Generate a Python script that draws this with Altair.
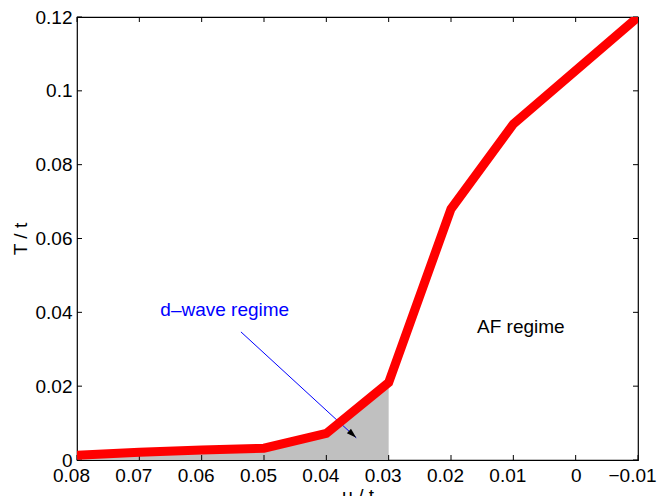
import altair as alt
import pandas as pd

mu = [0.08, 0.07, 0.06, 0.05, 0.04, 0.03, 0.02, 0.01, -0.01]
T = [0.0013, 0.0021, 0.0027, 0.0032, 0.0072, 0.021, 0.068, 0.091, 0.12]

dwave_mu = [0.08, 0.07, 0.06, 0.05, 0.04, 0.03]
dwave_T = [0.0013, 0.0021, 0.0027, 0.0032, 0.0072, 0.021]

x_ticks = [0.08, 0.07, 0.06, 0.05, 0.04, 0.03, 0.02, 0.01, 0.0, -0.01]
y_ticks = [0.0, 0.02, 0.04, 0.06, 0.08, 0.1, 0.12]

labels = ["d\u2013wave regime", "AF regime"]
label_mu = [0.0563, 0.0088]
label_T = [0.0406, 0.036]
label_color = ["#0000ff", "#000000"]

arrow_start = (0.0537, 0.0347)
arrow_end = (0.0352, 0.0060)

W, H = 561, 443
FONT = "Liberation Sans"
FS = 19
TL = 5

line_df = pd.DataFrame({"mu": mu, "T": T})
area_df = pd.DataFrame({"mu": dwave_mu, "T": dwave_T})
xt_df = pd.DataFrame({"v": x_ticks})
yt_df = pd.DataFrame({"v": y_ticks})
lab_df = pd.DataFrame({"mu": label_mu, "T": label_T, "text": labels, "c": label_color})
arr_df = pd.DataFrame({"mu": [arrow_start[0]], "T": [arrow_start[1]],
                       "mu2": [arrow_end[0]], "T2": [arrow_end[1]]})
head_df = pd.DataFrame({"mu": [arrow_end[0]], "T": [arrow_end[1]]})

xscale = alt.Scale(domain=[-0.01, 0.08], reverse=True, nice=False, zero=False)
yscale = alt.Scale(domain=[0, 0.12], nice=False, zero=False)

xaxis = alt.Axis(values=x_ticks, format=".2~f", title="\u03bc / t", ticks=False,
                 domain=False, grid=False, labelFontSize=FS, titleFontSize=FS,
                 labelPadding=6, titlePadding=1, labelFlush=False,
                 labelOffset={"condition": {"test": "datum.value == 0", "value": 0},
                              "value": -6})
yaxis = alt.Axis(values=y_ticks, format=".2~f", title="T / t", ticks=False,
                 domain=False, grid=False, labelFontSize=FS, titleFontSize=FS,
                 labelPadding=5, titlePadding=5, labelFlush=False)

area = alt.Chart(area_df).mark_area(color="#c0c0c0", opacity=1).encode(
    x=alt.X("mu:Q", scale=xscale, axis=xaxis),
    y=alt.Y("T:Q", scale=yscale, axis=yaxis),
)

line = alt.Chart(line_df).mark_line(color="#ff0000", strokeWidth=9, clip=True,
                                    strokeJoin="miter", strokeCap="butt").encode(
    x=alt.X("mu:Q", scale=xscale),
    y=alt.Y("T:Q", scale=yscale),
    order=alt.Order("idx:Q"),
).transform_window(idx="row_number()")

shaft = alt.Chart(arr_df).mark_rule(color="#0000ff", strokeWidth=1).encode(
    x=alt.X("mu:Q", scale=xscale), y=alt.Y("T:Q", scale=yscale),
    x2="mu2:Q", y2="T2:Q",
)

head = alt.Chart(head_df).mark_point(
    shape="M0,0 L-2,-0.6 L-2,0.6 Z", filled=True, color="#000000", opacity=1,
    size=100, angle=43, strokeWidth=0,
).encode(x=alt.X("mu:Q", scale=xscale), y=alt.Y("T:Q", scale=yscale))

txt = alt.Chart(lab_df).mark_text(font=FONT, fontSize=FS, align="center",
                                  baseline="middle").encode(
    x=alt.X("mu:Q", scale=xscale), y=alt.Y("T:Q", scale=yscale),
    text="text:N", color=alt.Color("c:N", scale=None),
)

bt = alt.Chart(xt_df).mark_rule(color="black", strokeWidth=1).encode(
    x=alt.X("v:Q", scale=xscale), y=alt.value(H), y2=alt.value(H - TL))
tt = alt.Chart(xt_df).mark_rule(color="black", strokeWidth=1).encode(
    x=alt.X("v:Q", scale=xscale), y=alt.value(0), y2=alt.value(TL))
lt = alt.Chart(yt_df).mark_rule(color="black", strokeWidth=1).encode(
    y=alt.Y("v:Q", scale=yscale), x=alt.value(0), x2=alt.value(TL))
rt = alt.Chart(yt_df).mark_rule(color="black", strokeWidth=1).encode(
    y=alt.Y("v:Q", scale=yscale), x=alt.value(W), x2=alt.value(W - TL))

chart = alt.layer(area, bt, tt, lt, rt, shaft, head, line, txt).properties(
    width=W, height=H,
    autosize=alt.AutoSizeParams(type="none"),
    padding={"left": 69, "top": 9, "right": 20, "bottom": 36},
    background="white",
).configure_view(stroke="black", strokeWidth=1.2).configure_axis(
    labelFont=FONT, titleFont=FONT, labelColor="black", titleColor="black",
    titleFontWeight="normal",
)

chart.save("out.html", embed_options={"renderer": "svg", "actions": False})
